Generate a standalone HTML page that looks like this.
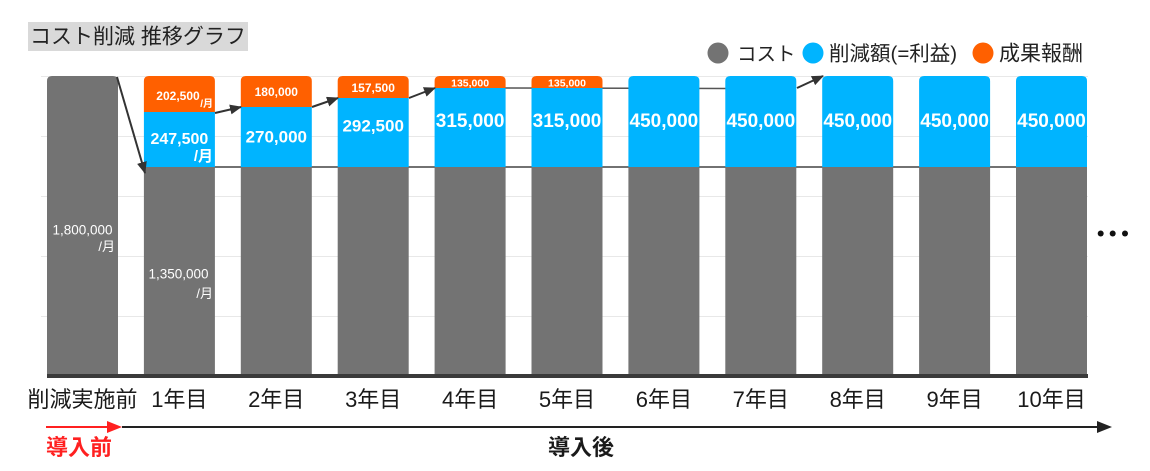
<!DOCTYPE html>
<html><head><meta charset="utf-8"><style>
html,body{margin:0;padding:0;background:#fff;}
svg{display:block;font-family:"Liberation Sans","Noto Sans CJK JP",sans-serif;}
.w{fill:#fff;font-weight:bold;text-anchor:middle;}
.we{fill:#fff;font-weight:bold;text-anchor:end;}
.cat{fill:#1a1a1a;font-size:22px;text-anchor:middle;font-family:"Liberation Sans","Noto Sans CJK JP",sans-serif;}
</style></head><body>
<svg width="1150" height="471" viewBox="0 0 1150 471" xmlns="http://www.w3.org/2000/svg">
<defs>
<marker id="ah" markerWidth="12" markerHeight="10" refX="11" refY="5" orient="auto" markerUnits="userSpaceOnUse">
<path d="M0,0 L12,5 L0,10 Z" fill="#333"/>
</marker>
</defs>
<!-- title -->
<rect x="28" y="22" width="220" height="29" fill="#d9d9d9"/>
<text x="30" y="43.5" font-size="21" fill="#222">コスト削減 推移グラフ</text>
<!-- legend -->
<circle cx="718" cy="53" r="10.5" fill="#737373"/>
<text x="737" y="60.5" font-size="19.5" fill="#222">コスト</text>
<circle cx="813" cy="53" r="10.5" fill="#00b4ff"/>
<text x="829" y="60.5" font-size="20.5" fill="#222">削減額(=利益)</text>
<circle cx="983" cy="53" r="10.5" fill="#ff6000"/>
<text x="999" y="60.5" font-size="21" fill="#222">成果報酬</text>
<!-- gridlines -->
<g stroke="#e8e8e8" stroke-width="1">
<line x1="41" y1="76.5" x2="1088" y2="76.5"/>
<line x1="41" y1="136.5" x2="1088" y2="136.5"/>
<line x1="41" y1="196.5" x2="1088" y2="196.5"/>
<line x1="41" y1="256.5" x2="1088" y2="256.5"/>
<line x1="41" y1="316.5" x2="1088" y2="316.5"/>
</g>
<!-- connector lines -->
<line x1="143" y1="167" x2="1087" y2="167" stroke="#444" stroke-width="1.5"/>
<line x1="505" y1="88" x2="726" y2="88.5" stroke="#555" stroke-width="1.5"/>
<!-- bar 0 -->
<path d="M47,81 Q47,76 52,76 H113 Q118,76 118,81 V374 H47 Z" fill="#737373"/>
<!-- bars 1-10 gray -->
<g fill="#737373">
<rect x="143.9" y="167" width="71" height="207"/>
<rect x="240.8" y="167" width="71" height="207"/>
<rect x="337.7" y="167" width="71" height="207"/>
<rect x="434.6" y="167" width="71" height="207"/>
<rect x="531.5" y="167" width="71" height="207"/>
<rect x="628.4" y="167" width="71" height="207"/>
<rect x="725.3" y="167" width="71" height="207"/>
<rect x="822.2" y="167" width="71" height="207"/>
<rect x="919.1" y="167" width="71" height="207"/>
<rect x="1016" y="167" width="71" height="207"/>
</g>
<!-- blue -->
<g fill="#00b4ff">
<rect x="143.9" y="112" width="71" height="55"/>
<rect x="240.8" y="107" width="71" height="60"/>
<rect x="337.7" y="98" width="71" height="69"/>
<rect x="434.6" y="88" width="71" height="79"/>
<rect x="531.5" y="88" width="71" height="79"/>
<path d="M628.4,81 Q628.4,76 633.4,76 H694.4 Q699.4,76 699.4,81 V167 H628.4 Z"/>
<path d="M725.3,81 Q725.3,76 730.3,76 H791.3 Q796.3,76 796.3,81 V167 H725.3 Z"/>
<path d="M822.2,81 Q822.2,76 827.2,76 H888.2 Q893.2,76 893.2,81 V167 H822.2 Z"/>
<path d="M919.1,81 Q919.1,76 924.1,76 H985.1 Q990.1,76 990.1,81 V167 H919.1 Z"/>
<path d="M1016,81 Q1016,76 1021,76 H1082 Q1087,76 1087,81 V167 H1016 Z"/>
</g>
<!-- orange -->
<g fill="#ff6000">
<path d="M143.9,81 Q143.9,76 148.9,76 H209.9 Q214.9,76 214.9,81 V112 H143.9 Z"/>
<path d="M240.8,81 Q240.8,76 245.8,76 H306.8 Q311.8,76 311.8,81 V107 H240.8 Z"/>
<path d="M337.7,81 Q337.7,76 342.7,76 H403.7 Q408.7,76 408.7,81 V98 H337.7 Z"/>
<path d="M434.6,81 Q434.6,76 439.6,76 H500.6 Q505.6,76 505.6,81 V88 H434.6 Z"/>
<path d="M531.5,81 Q531.5,76 536.5,76 H597.5 Q602.5,76 602.5,81 V88 H531.5 Z"/>
</g>
<!-- baseline -->
<rect x="47" y="374" width="1041" height="4" fill="#3a3a3a"/>
<!-- arrows -->
<g stroke="#333" stroke-width="2" fill="none" marker-end="url(#ah)">
<line x1="117" y1="77" x2="145" y2="173"/>
<line x1="215" y1="113" x2="241" y2="107"/>
<line x1="312" y1="107" x2="338" y2="98"/>
<line x1="409" y1="98" x2="435" y2="88"/>
<line x1="797" y1="88" x2="823" y2="76"/>
</g>
<!-- labels in bars -->
<text class="w" x="178" y="100" font-size="12">202,500</text>
<text class="we" x="213" y="107" font-size="10">/月</text>
<text class="w" x="179.4" y="144" font-size="16">247,500</text>
<text class="we" x="213" y="161" font-size="15">/月</text>
<text class="w" x="276.3" y="96" font-size="12">180,000</text>
<text class="w" x="276.3" y="142.5" font-size="17">270,000</text>
<text class="w" x="373.2" y="92" font-size="12">157,500</text>
<text class="w" x="373.2" y="131.5" font-size="17">292,500</text>
<text class="w" x="470.1" y="86.5" font-size="10.5">135,000</text>
<text class="w" x="470.1" y="127" font-size="19">315,000</text>
<text class="w" x="567" y="86.5" font-size="10.5">135,000</text>
<text class="w" x="567" y="127" font-size="19">315,000</text>
<text class="w" x="663.9" y="127" font-size="19">450,000</text>
<text class="w" x="760.8" y="127" font-size="19">450,000</text>
<text class="w" x="857.7" y="127" font-size="19">450,000</text>
<text class="w" x="954.6" y="127" font-size="19">450,000</text>
<text class="w" x="1051.5" y="127" font-size="19">450,000</text>
<text x="82.5" y="234.5" font-size="13.5" fill="#fff" text-anchor="middle">1,800,000</text>
<text x="115" y="251" font-size="13" fill="#fff" text-anchor="end">/月</text>
<text x="178.5" y="278.5" font-size="13.5" fill="#fff" text-anchor="middle">1,350,000</text>
<text x="213" y="298" font-size="13" fill="#fff" text-anchor="end">/月</text>
<!-- ellipsis -->
<g fill="#111">
<circle cx="1100.7" cy="233.5" r="3"/>
<circle cx="1112.7" cy="233.5" r="3"/>
<circle cx="1125" cy="233.5" r="3"/>
</g>
<!-- categories -->
<text class="cat" x="82.5" y="407">削減実施前</text>
<text class="cat" x="179.4" y="407">1年目</text>
<text class="cat" x="276.3" y="407">2年目</text>
<text class="cat" x="373.2" y="407">3年目</text>
<text class="cat" x="470.1" y="407">4年目</text>
<text class="cat" x="567" y="407">5年目</text>
<text class="cat" x="663.9" y="407">6年目</text>
<text class="cat" x="760.8" y="407">7年目</text>
<text class="cat" x="857.7" y="407">8年目</text>
<text class="cat" x="954.6" y="407">9年目</text>
<text class="cat" x="1051.5" y="407">10年目</text>
<!-- bottom arrows -->
<line x1="46" y1="427" x2="110" y2="427" stroke="#ff2020" stroke-width="2"/>
<path d="M107,421 L122,427 L107,433 Z" fill="#ff2020"/>
<line x1="122" y1="427" x2="1100" y2="427" stroke="#222" stroke-width="2"/>
<path d="M1097,421 L1112,427 L1097,433 Z" fill="#222"/>
<text x="46" y="455" font-size="22" font-weight="bold" fill="#ff2020">導入前</text>
<text x="581" y="455" font-size="22" font-weight="bold" fill="#1a1a1a" text-anchor="middle">導入後</text>
</svg>
</body></html>
